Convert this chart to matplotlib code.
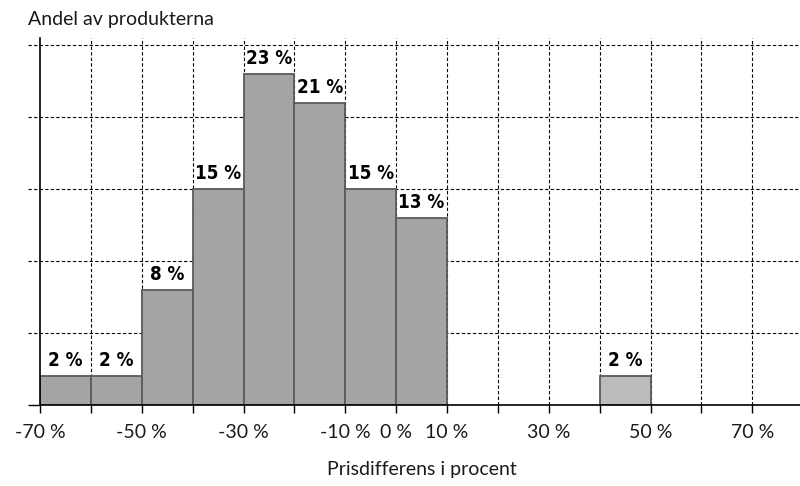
import matplotlib.pyplot as plt
from matplotlib.transforms import blended_transform_factory

# prisdifferens (vänster kant på varje intervall, i procent) och andel produkter
bin_left = [-70, -60, -50, -40, -30, -20, -10, 0, 40]
andel = [2, 2, 8, 15, 23, 21, 15, 13, 2]
bin_width = 10

x_ticks = list(range(-70, 81, 10))
x_ticklabels = ['-70 %', '', '-50 %', '', '-30 %', '', '-10 %', '0 %', '10 %',
                '', '30 %', '', '50 %', '', '70 %', '']
y_grid = [0, 5, 10, 15, 20, 25]

plt.rcParams['font.family'] = ['Lato', 'DejaVu Sans']

fig = plt.figure(figsize=(8, 4.86), dpi=100)
ax = fig.add_axes([0.05, 0.1667, 0.954, 0.755])

colors = ['#bcbcbc' if x >= 20 else '#a4a4a4' for x in bin_left]
ax.bar(bin_left, andel, width=bin_width, align='edge', color=colors,
       edgecolor='#5a5a5a', linewidth=1.3, zorder=3)

for x, v in zip(bin_left, andel):
    ax.text(x + bin_width / 2, v + 0.4, f'{v} %', ha='center', va='bottom',
            fontsize=13.5, fontweight='bold', fontstretch='condensed',
            family=['DejaVu Sans'], zorder=4)

ax.set_xlim(-70, 80)
ax.set_ylim(0, 25.5)

# streckade stödlinjer, de vågräta går en bit ut till vänster om axeln
trans = blended_transform_factory(ax.transAxes, ax.transData)
for y in y_grid[1:]:
    ax.plot([-0.016, 1], [y, y], transform=trans, color='black',
            linestyle=(0, (3, 2)), linewidth=0.8, clip_on=False, zorder=1)
for x in x_ticks[1:]:
    ax.axvline(x, color='black', linestyle=(0, (3, 2)), linewidth=0.8, zorder=1)

ax.set_xticks(x_ticks)
ax.set_xticklabels(x_ticklabels, fontsize=14, color='#1a1a1a')
ax.set_yticks([0])
ax.set_yticklabels([''])
ax.tick_params(axis='x', direction='out', length=6, width=1, pad=8)
ax.tick_params(axis='y', direction='out', length=9, width=1)

for side in ['top', 'right']:
    ax.spines[side].set_visible(False)
ax.spines['left'].set_linewidth(1.2)
ax.spines['bottom'].set_linewidth(1.2)
ax.spines['left'].set_zorder(5)
ax.spines['bottom'].set_zorder(5)

ax.set_xlabel('Prisdifferens i procent', fontsize=14, color='#1a1a1a', labelpad=14)
fig.text(0.035, 0.96, 'Andel av produkterna', fontsize=14, color='#1a1a1a',
         ha='left', va='center')

fig.savefig('out.png', dpi=100)
